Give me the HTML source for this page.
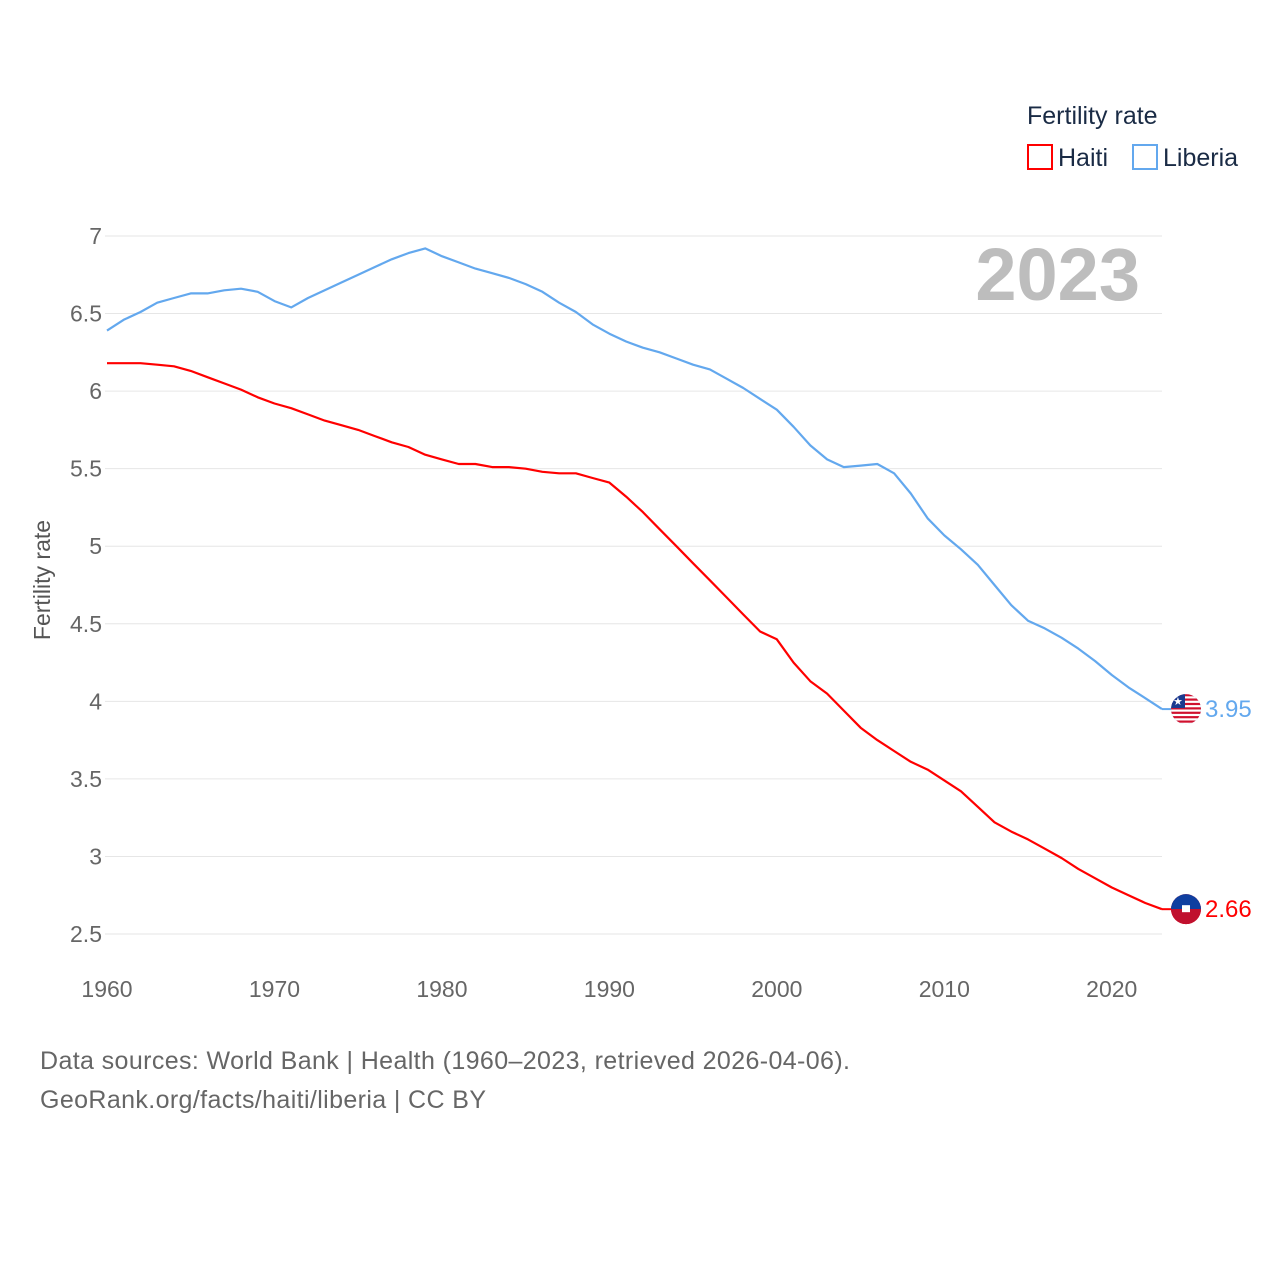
<!DOCTYPE html>
<html><head><meta charset="utf-8"><style>
body{margin:0;background:#fff;}
svg{display:block;font-family:"Liberation Sans",sans-serif;}
</style></head><body>
<svg id="chart" width="1280" height="1280" viewBox="0 0 1280 1280">
<defs><clipPath id="flagclip"><circle id="lbclipc" cx="1186" cy="709" r="15"/></clipPath></defs>
<g id="grid"></g>
<g id="yticks"></g>
<g id="xticks"></g>
<text transform="translate(50,580) rotate(-90)" text-anchor="middle" font-size="23" fill="#555">Fertility rate</text>
<text x="1140" y="300" text-anchor="end" font-size="74" font-weight="bold" fill="#bdbdbd">2023</text>
<g>
<text x="1027" y="124" font-size="25" fill="#1a2b45">Fertility rate</text>
<rect x="1028" y="145" width="24" height="24" fill="none" stroke="#ff0000" stroke-width="2"/>
<text x="1058" y="166" font-size="25" fill="#1a2b45">Haiti</text>
<rect x="1133" y="145" width="24" height="24" fill="none" stroke="#63a8ee" stroke-width="2"/>
<text x="1163" y="166" font-size="25" fill="#1a2b45">Liberia</text>
</g>
<g id="series"></g>
<text x="40" y="1069" font-size="25" fill="#666" textLength="810">Data sources: World Bank | Health (1960–2023, retrieved 2026-04-06).</text>
<text x="40" y="1108" font-size="25" fill="#666" textLength="446">GeoRank.org/facts/haiti/liberia | CC BY</text>
</svg>
<script>
const years = [];
for (let y = 1960; y <= 2023; y++) years.push(y);
const yTickValues = [2.5,3,3.5,4,4.5,5,5.5,6,6.5,7];
const yTickLabels = ["2.5","3","3.5","4","4.5","5","5.5","6","6.5","7"];
const xTickValues = [1960,1970,1980,1990,2000,2010,2020];
const xTickLabels = ["1960","1970","1980","1990","2000","2010","2020"];
const liberia = [6.39,6.46,6.51,6.57,6.60,6.63,6.63,6.65,6.66,6.64,6.58,6.54,6.60,6.65,6.70,6.75,6.80,6.85,6.89,6.92,6.87,6.83,6.79,6.76,6.73,6.69,6.64,6.57,6.51,6.43,6.37,6.32,6.28,6.25,6.21,6.17,6.14,6.08,6.02,5.95,5.88,5.77,5.65,5.56,5.51,5.52,5.53,5.47,5.34,5.18,5.07,4.98,4.88,4.75,4.62,4.52,4.47,4.41,4.34,4.26,4.17,4.09,4.02,3.95];
const haiti = [6.18,6.18,6.18,6.17,6.16,6.13,6.09,6.05,6.01,5.96,5.92,5.89,5.85,5.81,5.78,5.75,5.71,5.67,5.64,5.59,5.56,5.53,5.53,5.51,5.51,5.50,5.48,5.47,5.47,5.44,5.41,5.32,5.22,5.11,5.00,4.89,4.78,4.67,4.56,4.45,4.40,4.25,4.13,4.05,3.94,3.83,3.75,3.68,3.61,3.56,3.49,3.42,3.32,3.22,3.16,3.11,3.05,2.99,2.92,2.86,2.80,2.75,2.70,2.66];

const NS = "http://www.w3.org/2000/svg";
const X0 = 107, X1 = 1162, Y7 = 236, Y25 = 934;
const xs = yr => X0 + (yr - 1960) * (X1 - X0) / 63;
const ys = v => Y7 + (7 - v) * (Y25 - Y7) / 4.5;
function mk(tag, attrs, parent) {
  const e = document.createElementNS(NS, tag);
  for (const k in attrs) e.setAttribute(k, attrs[k]);
  parent.appendChild(e);
  return e;
}
const grid = document.getElementById('grid'), yt = document.getElementById('yticks'), xt = document.getElementById('xticks'), ser = document.getElementById('series');
yTickValues.forEach((v, i) => {
  const l = mk('line', {x1: 105, x2: 1162, y1: ys(v), y2: ys(v), stroke: '#e6e6e6', 'stroke-width': 1}, grid);
  
  
  const t = mk('text', {x: 102, y: ys(v) + 8, 'text-anchor': 'end', 'font-size': 23, fill: '#666'}, yt);
  
  
  t.textContent = yTickLabels[i];
});
xTickValues.forEach((v, i) => {
  const t = mk('text', {x: xs(v), y: 997, 'text-anchor': 'middle', 'font-size': 23, fill: '#666'}, xt);
  
  
  t.textContent = xTickLabels[i];
});
function line(data, color, name) {
  const d = data.map((v, i) => (i ? 'L' : 'M') + xs(years[i]).toFixed(1) + ',' + ys(v).toFixed(1)).join('');
  const p = mk('path', {d: d, fill: 'none', stroke: color, 'stroke-width': 2.2, 'stroke-linejoin': 'round'}, ser);
  
  
  const last = data[data.length - 1];
  const yl = ys(last);
  mk('line', {x1: X1, x2: 1172, y1: yl, y2: yl, stroke: color, 'stroke-width': 2}, ser);
  const c = mk('circle', {cx: 1186, cy: yl, r: 15, fill: color}, ser);
  
  
  const t = mk('text', {x: 1205, y: yl + 8, 'font-size': 24, fill: color}, ser);
  
  
  t.textContent = last.toFixed(2);
  return yl;
}
const yh = line(haiti, '#ff0000', 'haiti');
const ylb = line(liberia, '#63a8ee', 'liberia');
mk('path', {d: `M1171,${yh}a15,15 0 0 1 30,0z`, fill: '#0f3fa0'}, ser);
mk('path', {d: `M1171,${yh}a15,15 0 0 0 30,0z`, fill: '#c0102e'}, ser);
mk('rect', {x: 1182, y: yh - 4, width: 8, height: 7, fill: '#fff'}, ser);
document.getElementById('lbclipc').setAttribute('cy', ylb);
const fg = mk('g', {'clip-path': 'url(#flagclip)'}, ser);
mk('rect', {x: 1170, y: ylb - 16, width: 32, height: 32, fill: '#fff'}, fg);
for (let k = 0; k < 7; k++) mk('rect', {x: 1170, y: ylb - 15 + k * 4.4, width: 32, height: 2.2, fill: '#d0102e'}, fg);
mk('rect', {x: 1170, y: ylb - 16, width: 15, height: 15, fill: '#1a3a8f'}, fg);
mk('text', {x: 1173, y: ylb - 4, 'font-size': 11, fill: '#fff'}, fg).textContent = '★';
</script>
</body></html>
